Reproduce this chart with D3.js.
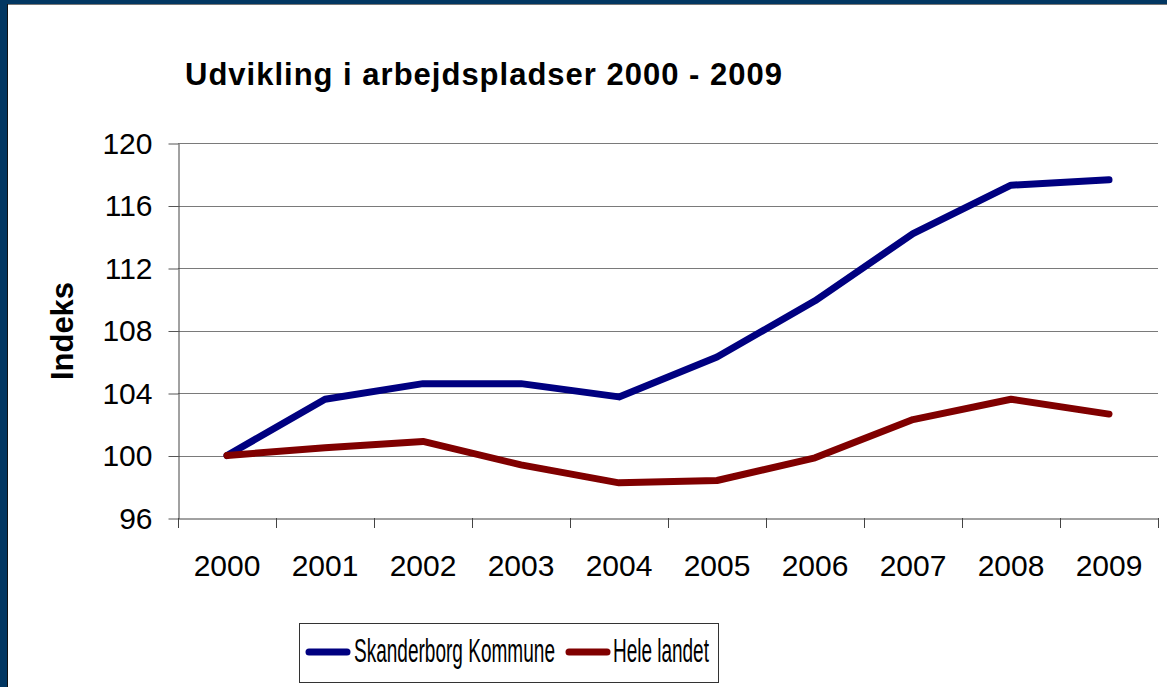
<!DOCTYPE html>
<html>
<head>
<meta charset="utf-8">
<script src="https://cdn.jsdelivr.net/npm/d3@7"></script>
<style>
  html, body { margin: 0; padding: 0; background: #fff; }
  svg { display: block; font-family: "Liberation Sans", Arial, sans-serif; }
</style>
</head>
<body>
<svg id="chart"></svg>
<script>
/* data */
var years = ["2000", "2001", "2002", "2003", "2004", "2005", "2006", "2007", "2008", "2009"]
var skanderborg = [100, 103.6, 104.6, 104.6, 103.75, 106.3, 109.9, 114.2, 117.3, 117.65]
var heleLandet = [100, 100.5, 100.9, 99.4, 98.25, 98.4, 99.85, 102.3, 103.6, 102.65]
var yTicks = [96, 100, 104, 108, 112, 116, 120]
var seriesNames = ["Skanderborg Kommune", "Hele landet"]
var seriesColors = ["#000080", "#800000"]

var W = 1167, H = 687
var plot = {left: 178, right: 1158, top: 143, bottom: 518}

var svg = d3.select("#chart").attr("width", W).attr("height", H)

/* frame */
svg.append("rect").attr("x", 0).attr("y", 0).attr("width", W).attr("height", H).attr("fill", "#fff")
svg.append("rect").attr("x", 0).attr("y", 0).attr("width", W).attr("height", 4).attr("fill", "#023762")
svg.append("rect").attr("x", 0).attr("y", 0).attr("width", 7).attr("height", H).attr("fill", "#023762")
svg.append("line").attr("x1", 7).attr("x2", W).attr("y1", 4.5).attr("y2", 4.5).attr("stroke", "#777")
svg.append("line").attr("x1", 7.5).attr("x2", 7.5).attr("y1", 4).attr("y2", H).attr("stroke", "#111")

/* scales */
var x = d3.scaleBand().domain(years).range([plot.left, plot.right]).padding(0)
var y = d3.scaleLinear().domain([96, 120]).range([plot.bottom, plot.top])

/* gridlines */
svg.append("g").selectAll("line")
    .data(yTicks.filter(function(d) { return d > 96 }))
    .enter().append("line")
    .attr("x1", plot.left).attr("x2", plot.right)
    .attr("y1", function(d) { return Math.round(y(d)) + 0.5 })
    .attr("y2", function(d) { return Math.round(y(d)) + 0.5 })
    .attr("stroke", "#7a7a7a").attr("stroke-width", 1)

/* y axis */
var yAxis = svg.append("g")
    .attr("transform", "translate(" + (plot.left + 0.5) + ",0.5)")
    .call(d3.axisLeft(y).tickValues(yTicks).tickSize(10).tickSizeOuter(0).tickPadding(16))
yAxis.select(".domain").attr("stroke", "#444")
yAxis.selectAll(".tick line").attr("stroke", "#555")
yAxis.selectAll("text").attr("font-size", 30).attr("fill", "#000")
    .attr("font-family", "Liberation Sans, Arial, sans-serif")

/* x axis */
var xAxis = svg.append("g")
    .attr("transform", "translate(0," + (plot.bottom + 0.5) + ")")
    .call(d3.axisBottom(x).tickSize(0).tickPadding(36))
xAxis.select(".domain").attr("stroke", "#444")
xAxis.selectAll("text").attr("font-size", 30).attr("fill", "#000")
    .attr("font-family", "Liberation Sans, Arial, sans-serif")

/* tick marks between categories */
svg.append("g").selectAll("line")
    .data(years.concat(["end"]))
    .enter().append("line")
    .attr("x1", function(d, i) { return Math.round(plot.left + i * x.bandwidth()) + 0.5 })
    .attr("x2", function(d, i) { return Math.round(plot.left + i * x.bandwidth()) + 0.5 })
    .attr("y1", plot.bottom).attr("y2", plot.bottom + 10)
    .attr("stroke", "#444")

/* lines */
var line = d3.line()
    .x(function(d, i) { return x(years[i]) + x.bandwidth() / 2 })
    .y(function(d) { return y(d) })

svg.append("g").selectAll("path")
    .data([skanderborg, heleLandet])
    .enter().append("path")
    .attr("d", line)
    .attr("fill", "none")
    .attr("stroke", function(d, i) { return seriesColors[i] })
    .attr("stroke-width", 7)
    .attr("stroke-linejoin", "round")
    .attr("stroke-linecap", "round")

/* title */
svg.append("text")
    .text("Udvikling i arbejdspladser 2000 - 2009")
    .attr("x", 185).attr("y", 85)
    .attr("font-size", 31).attr("font-weight", "bold")
    .attr("textLength", 597).attr("lengthAdjust", "spacing")

/* y title */
svg.append("text")
    .text("Indeks")
    .attr("transform", "translate(73,331) rotate(-90)")
    .attr("text-anchor", "middle")
    .attr("font-size", 31).attr("font-weight", "bold")

/* legend */
var legend = svg.append("g")
legend.append("rect")
    .attr("x", 299.5).attr("y", 623.5).attr("width", 419).attr("height", 59)
    .attr("fill", "#fff").attr("stroke", "#333")

// the legend font in the picture is squeezed sideways, so scale it
var legendItems = [
    {line: 306, text: 354, len: 201},
    {line: 566, text: 613, len: 96}
]
legendItems.forEach(function(it, i) {
    legend.append("line")
        .attr("x1", it.line + 3).attr("x2", it.line + 41)
        .attr("y1", 652).attr("y2", 652)
        .attr("stroke", seriesColors[i]).attr("stroke-width", 7)
        .attr("stroke-linecap", "round")
    var t = legend.append("text")
        .text(seriesNames[i])
        .attr("font-size", 34)
    var natural = t.node().getComputedTextLength()
    t.attr("transform", "translate(" + it.text + ",662) scale(" + (it.len / natural) + ",1)")
})
</script>
</body>
</html>
